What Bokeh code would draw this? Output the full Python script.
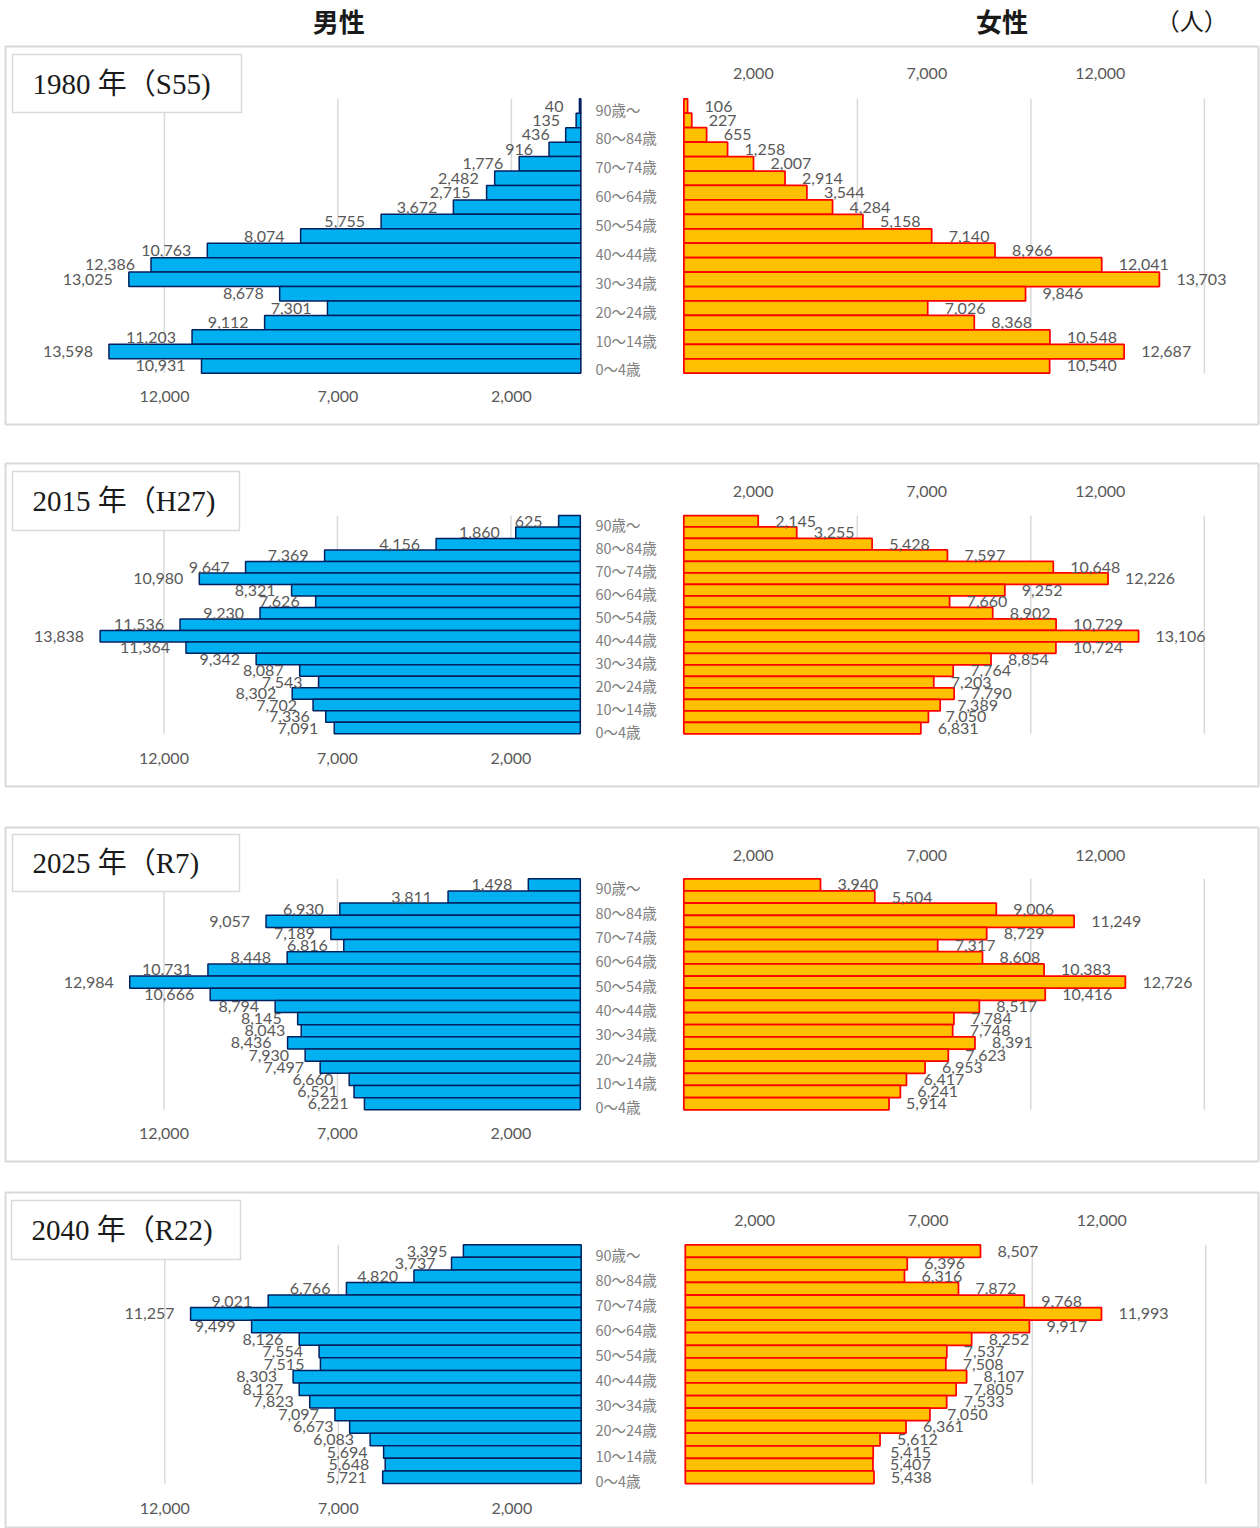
from bokeh.plotting import figure
from bokeh.models import Range1d, ColumnDataSource
from bokeh.layouts import column
from bokeh.embed import file_html
from bokeh.resources import INLINE
from bokeh.core.properties import value

# ---------------- data (top row = 90歳～, bottom row = 0～4歳) ----------------
age_groups = ["90歳～", "85～89歳", "80～84歳", "75～79歳", "70～74歳", "65～69歳",
              "60～64歳", "55～59歳", "50～54歳", "45～49歳", "40～44歳", "35～39歳",
              "30～34歳", "25～29歳", "20～24歳", "15～19歳", "10～14歳", "5～9歳", "0～4歳"]

titles = ["1980 年（S55)", "2015 年（H27)", "2025 年（R7)", "2040 年（R22)"]

male_1980 = [40, 135, 436, 916, 1776, 2482, 2715, 3672, 5755, 8074, 10763, 12386,
             13025, 8678, 7301, 9112, 11203, 13598, 10931]
female_1980 = [106, 227, 655, 1258, 2007, 2914, 3544, 4284, 5158, 7140, 8966, 12041,
               13703, 9846, 7026, 8368, 10548, 12687, 10540]

male_2015 = [625, 1860, 4156, 7369, 9647, 10980, 8321, 7626, 9230, 11536, 13838, 11364,
             9342, 8087, 7543, 8302, 7702, 7336, 7091]
female_2015 = [2145, 3255, 5428, 7597, 10648, 12226, 9252, 7660, 8902, 10729, 13106, 10724,
               8854, 7764, 7203, 7790, 7389, 7050, 6831]

male_2025 = [1498, 3811, 6930, 9057, 7189, 6816, 8448, 10731, 12984, 10666, 8794, 8145,
             8043, 8436, 7930, 7497, 6660, 6521, 6221]
female_2025 = [3940, 5504, 9006, 11249, 8729, 7317, 8608, 10383, 12726, 10416, 8517, 7784,
               7748, 8391, 7623, 6953, 6417, 6241, 5914]

male_2040 = [3395, 3737, 4820, 6766, 9021, 11257, 9499, 8126, 7554, 7515, 8303, 8127,
             7823, 7097, 6673, 6083, 5694, 5648, 5721]
female_2040 = [8507, 6396, 6316, 7872, 9768, 11993, 9917, 8252, 7537, 7508, 8107, 7805,
               7533, 7050, 6361, 5612, 5415, 5407, 5438]

male_ticks = [12000, 7000, 2000]
female_ticks = [2000, 7000, 12000]
male_grid = [2000, 7000, 12000]
female_grid = [5000, 10000, 15000]

# ---------------- layout constants (pixels, page coordinates) ----------------
S = 0.0347            # px per person
W = 1260
FRAME_L, FRAME_R = 5, 1258
geoms = [
    dict(top=46, bottom=424, gap=38, bar_top=98.3, bar_bot=372.7, zm=580.3, zf=683.4,
         tick_top=73, tick_bot=396, box=(12, 241, 54, 112)),
    dict(top=463, bottom=786, gap=40, bar_top=515.0, bar_bot=733.3, zm=579.8, zf=683.3,
         tick_top=491, tick_bot=758, box=(12, 239, 471, 530)),
    dict(top=827, bottom=1161, gap=30, bar_top=878.3, bar_bot=1109.3, zm=579.8, zf=683.3,
         tick_top=855, tick_bot=1133, box=(12, 239, 834, 891)),
    dict(top=1192, bottom=1528, gap=0, bar_top=1244.3, bar_bot=1483.0, zm=580.7, zf=684.8,
         tick_top=1220, tick_bot=1507.5, box=(11, 240, 1200, 1259)),
]

LABEL_FONT = value("Lato")
CJK_FONT = value("Noto Sans CJK JP")
TITLE_FONT = value("'Liberation Serif', 'Noto Sans CJK JP'")
GRID_C = "#D9D9D9"


def make_panel(g, title, male, female):
    n = len(age_groups)
    h = (g["bar_bot"] - g["bar_top"]) / n

    def yd(py):
        return (g["bar_bot"] - py) / h - 0.5

    def xm(px):
        return (g["zm"] - px) / S

    def xf(px):
        return (px - g["zf"]) / S

    frame_h = g["bottom"] - g["top"]
    p = figure(width=W, height=1 + frame_h + g["gap"],
               x_range=Range1d(xm(FRAME_L), xm(FRAME_R)),
               y_range=Range1d(yd(g["bottom"]), yd(g["top"])),
               x_axis_type=None, y_axis_type=None, title=None,
               toolbar_location=None, output_backend="svg",
               min_border_left=FRAME_L, min_border_right=W - FRAME_R, min_border_top=1,
               min_border_bottom=g["gap"])
    p.extra_x_ranges = {"f": Range1d(xf(FRAME_L), xf(FRAME_R))}
    p.outline_line_color = GRID_C
    p.outline_line_width = 2
    p.background_fill_color = "white"
    p.border_fill_color = "white"

    y0, y1 = -0.5, n - 0.5
    # grid lines
    p.segment(x0=male_grid, x1=male_grid, y0=[y0] * len(male_grid), y1=[y1] * len(male_grid),
              line_color=GRID_C, line_width=1.5)
    p.segment(x0=female_grid, x1=female_grid, y0=[y0] * len(female_grid),
              y1=[y1] * len(female_grid), line_color=GRID_C, line_width=1.5, x_range_name="f")
    # male axis line
    p.segment(x0=[0], x1=[0], y0=[y0], y1=[y1], line_color="#A9B8D0", line_width=1.5)

    # title box
    bx0, bx1, by0, by1 = g["box"]
    p.quad(left=[xm(bx0)], right=[xm(bx1)], top=[yd(by0)], bottom=[yd(by1)],
           fill_color="white", line_color=GRID_C, line_width=1.5)
    p.text(x=[xm(bx0 + 20)], y=[yd((by0 + by1) / 2)], text=[title], text_font=TITLE_FONT,
           text_font_size="29px", text_align="left", text_baseline="middle",
           text_color="#1a1a1a")

    ys = [n - 1 - i for i in range(n)]
    src_m = ColumnDataSource(dict(y=ys, v=male, lab=[f"{v:,}" for v in male]))
    src_f = ColumnDataSource(dict(y=ys, v=female, lab=[f"{v:,}" for v in female]))

    p.hbar(y="y", left=0, right="v", height=1.0, source=src_m,
           fill_color="#00B0F0", line_color="#002060", line_width=1.5)
    p.hbar(y="y", left=0, right="v", height=1.0, source=src_f, x_range_name="f",
           fill_color="#FFC000", line_color="#FF0000", line_width=1.75)

    p.text(x="v", y="y", text="lab", source=src_m, x_offset=-16, text_align="right",
           text_baseline="middle", text_font=LABEL_FONT, text_font_size="16px",
           text_color="#595959")
    p.text(x="v", y="y", text="lab", source=src_f, x_offset=17, text_align="left",
           text_baseline="middle", text_font=LABEL_FONT, text_font_size="16px",
           text_color="#595959", x_range_name="f")

    # age labels (every other group)
    shown = [(ys[i], age_groups[i]) for i in range(n) if ys[i] % 2 == 0]
    p.text(x=[xm(595)] * len(shown), y=[s[0] for s in shown], text=[s[1] for s in shown],
           y_offset=3, text_align="left", text_baseline="middle", text_font=CJK_FONT,
           text_font_size="14.5px", text_color="#7F7F7F")

    # tick labels
    p.text(x=female_ticks, y=[yd(g["tick_top"])] * len(female_ticks),
           text=[f"{t:,}" for t in female_ticks], x_range_name="f", text_align="center",
           text_baseline="middle", text_font=LABEL_FONT, text_font_size="16px",
           text_color="#595959")
    p.text(x=male_ticks, y=[yd(g["tick_bot"])] * len(male_ticks),
           text=[f"{t:,}" for t in male_ticks], text_align="center",
           text_baseline="middle", text_font=LABEL_FONT, text_font_size="16px",
           text_color="#595959")
    return p


# header (page-pixel coordinates)
HDR_H = 45
hdr = figure(width=W, height=HDR_H, x_range=Range1d(0, W), y_range=Range1d(HDR_H, 0),
             x_axis_type=None, y_axis_type=None, title=None, toolbar_location=None,
             output_backend="svg", min_border=0)
hdr.outline_line_color = None
hdr.text(x=[335, 1002], y=[20, 20], text=["男性", "女性"], text_font=CJK_FONT,
         text_font_size="26px", text_font_style="bold", text_align="center",
         text_baseline="middle", text_color="#1a1a1a")
hdr.text(x=[1193], y=[19], text=["（人）"], text_font=CJK_FONT, text_font_size="24px",
         text_align="center", text_baseline="middle", text_color="#1a1a1a")

data = [(male_1980, female_1980), (male_2015, female_2015),
        (male_2025, female_2025), (male_2040, female_2040)]
panels = [make_panel(g, t, m, f) for g, t, (m, f) in zip(geoms, titles, data)]

layout = column(hdr, *panels, spacing=0)
open("out.html", "w").write(file_html(layout, INLINE, title="人口ピラミッド"))
